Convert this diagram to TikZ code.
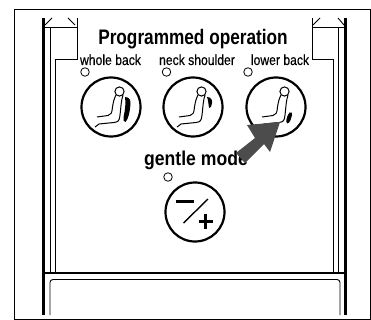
\documentclass[tikz,border=0pt]{standalone}
\usepackage{fontspec}
\setmainfont{Liberation Sans}
\newfontfamily\labelfont[FakeBold=0.35]{Liberation Sans}
\tikzset{
    panelline/.style={black, line width=0.9pt},
    thickline/.style={black, line width=3pt},
    ledlamp/.style={circle, draw, line width=0.8pt, inner sep=0pt, minimum size=8.5pt},
    pushbutton/.style={circle, draw, line width=2.2pt, inner sep=0pt, minimum size=59pt},
    smalllabel/.style={font=\labelfont\fontsize{14.5}{14.5}\selectfont, anchor=base, inner sep=0pt, xscale=0.84},
    biglabel/.style={font=\bfseries\fontsize{21}{21}\selectfont, anchor=base, inner sep=0pt, xscale=0.82},
    modelabel/.style={font=\bfseries\fontsize{20}{20}\selectfont, anchor=base, inner sep=0pt, xscale=0.88}
}

%% Seat with a massage pad; #1 = centre, #2 = pad path
\newcommand{\seaticon}[2]{
    \begin{scope}[shift={#1}]
        \draw[line width=1pt] (8.5,-15.5) circle (4.6);
        \draw[line width=1pt, line join=round] (5,-12) .. controls (3,-8) and (2.5,-6) .. (1.5,0)
            .. controls (1,6) and (0,8) .. (-3,8.5) -- (-14,10);
        \draw[line width=1pt, line join=round] (12,-12) .. controls (10,-6) and (10,0) .. (9,8)
            .. controls (8.5,14) and (7,15) .. (3,15.5) -- (-12,17) -- (-16,20);
        \fill[black] #2;
    \end{scope}
}

\begin{document}
\begin{tikzpicture}[x=1pt, y=-1pt]
\useasboundingbox (0,0) rectangle (371,320);

%% Outer frame
\draw[panelline] (14,9) rectangle (370,319);

%% Left side of the housing
\draw[thickline] (43.5,18) -- (43.5,315);
\draw[panelline] (50,27) -- (50,273);
\draw[panelline] (55.7,273) -- (55.7,59) -- (77,59) -- (77,18);
\draw[panelline] (43,27) -- (77,27);
\draw[panelline] (45,25) -- (52,18);
\draw[panelline] (68,18) -- (75,25);

%% Right side of the housing
\draw[thickline] (345,18) -- (345,315);
\draw[panelline] (338,27) -- (338,273);
\draw[panelline] (333,273) -- (333,59) -- (312,59) -- (312,18);
\draw[panelline] (312,27) -- (345,27);
\draw[panelline] (313,25) -- (320,18);
\draw[panelline] (338,18) -- (344,25);

%% Lower compartment
\draw[black, line width=2.4pt] (43.5,273) -- (345,273);
\draw[panelline, rounded corners=3pt] (50,315) -- (50,279.5) -- (340,279.5) -- (340,315);

%% Labels
\node[biglabel] (title) at (193,45) {Programmed operation};
\node[smalllabel] (wholelabel) at (110.5,65) {whole back};
\node[smalllabel] (necklabel) at (197,65) {neck shoulder};
\node[smalllabel] (lowerlabel) at (280,65) {lower back};
\node[modelabel] (gentlelabel) at (196,165) {gentle mode};

%% Lamps
\node[ledlamp] (wholeled) at (85,72) {};
\node[ledlamp] (neckled) at (166.5,72) {};
\node[ledlamp] (lowerled) at (248,72) {};
\node[ledlamp] (gentleled) at (168,177) {};

%% Buttons
\node[pushbutton] (wholebtn) at (111,107) {};
\node[pushbutton] (neckbtn) at (193,107) {};
\node[pushbutton] (lowerbtn) at (276,107) {};
\node[pushbutton] (gentlebtn) at (195,212) {};

\seaticon{(111,107)}{(14,-10) .. controls (18,-10) and (20,-7) .. (19.5,-3) .. controls (19,4) and (17.5,12) .. (14.5,15) .. controls (12.5,15) and (12,13) .. (12.5,10) .. controls (14,4) and (15,-4) .. (14,-10)}
\seaticon{(193,107)}{(14,-10) .. controls (18,-10) and (19.5,-7) .. (19,-4) .. controls (18.5,-1) and (18,1) .. (16.5,1) .. controls (15,-1) and (16,-5) .. (14,-10)}
\seaticon{(276,107)}{(13.5,5.5) .. controls (16,4.5) and (16.5,6) .. (16,8) .. controls (15,12) and (14,16) .. (11.5,16.5) .. controls (9.5,16) and (10,10) .. (13.5,5.5)}

%% Minus / plus symbol
\draw[line width=2.4pt] (176,201.5) -- (194,201.5);
\draw[line width=1.4pt] (183.5,223) -- (208,199);
\draw[line width=2.4pt] (198.5,221.5) -- (213,221.5);
\draw[line width=2.4pt] (205.5,214) -- (205.5,229);

%% Arrow pointing at the button
\fill[black!70] (280,122) -- (247,125) -- (255,138) -- (236,153) -- (245,163) -- (264,144) -- (270,152) -- cycle;

\end{tikzpicture}
\end{document}
